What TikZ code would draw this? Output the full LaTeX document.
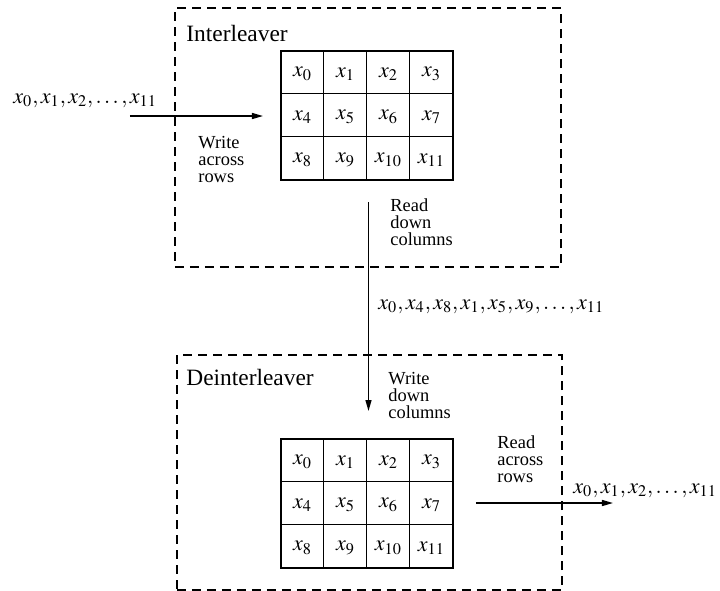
\documentclass[tikz,border=0pt]{standalone}
\usepackage{mathptmx}
\usepackage{fontspec}
\setmainfont{Liberation Serif}
\usetikzlibrary{arrows.meta,calc}

\tikzset{
  gridbox/.style={draw, line width=0.7pt, minimum width=86pt, minimum height=64.5pt,
    inner sep=0pt},
  gridline/.style={line width=0.7pt},
  cell/.style={inner sep=0pt, font=\fontsize{11}{12}\selectfont},
  stage/.style={draw, dashed, dash pattern=on 4.5pt off 3pt, line width=0.6pt,
    inner sep=0pt},
  flow/.style={line width=0.7pt, -{Triangle[length=5.5pt,width=3pt]}},
  title/.style={anchor=base west, inner sep=0pt, font=\fontsize{11.7}{13}\selectfont},
  % placed by the baseline of the last line
  note/.style={anchor=base west, inner sep=0pt, align=left,
    font=\fontsize{9.2}{8.5}\selectfont},
  seq/.style={anchor=base west, inner sep=0pt, font=\fontsize{11}{12}\selectfont},
}

% 3x4 array of x_0 ... x_11 with its top left corner at (#2,#3), named #1
\newcommand{\symarray}[3]{%
  \node[gridbox] (#1) at (#2+86,#3+64.5) {};
  \foreach \c in {1,2,3}
    \draw[gridline] ($(#1.north west)+(43*\c,0)$) -- ($(#1.south west)+(43*\c,0)$);
  \foreach \r in {1,2}
    \draw[gridline] ($(#1.north west)+(0,43*\r)$) -- ($(#1.north east)+(0,43*\r)$);
  \foreach \i in {0,...,11} {
    \pgfmathtruncatemacro{\cc}{mod(\i,4)}
    \pgfmathtruncatemacro{\rr}{int(\i/4)}
    \node[cell] (#1-\i) at (#2+21.5+43*\cc,#3+23+43*\rr) {$x_{\i}$};
  }%
}

\begin{document}
\begin{tikzpicture}[x=0.5pt, y=-0.5pt]
\useasboundingbox (0,0) rectangle (720,591);

% interleaver block
\node[stage, minimum width=193pt, minimum height=129.5pt] (ilv) at (368,137.5) {};
\node[title] (ilvT) at (186,41) {Interleaver};
\symarray{G1}{281}{51}
\node[seq] (inSeq) at (13,103) {$x_0, x_1, x_2, \ldots, x_{11}$};
\coordinate (inS) at (130,116);
\coordinate (inE) at (263,116);
\draw[flow] (inS) -- (inE);
\node[note] (wRows) at (198,182) {Write\\across\\rows};
\node[note] (rCols) at (390,245) {Read\\down\\columns};

% deinterleaver block
\node[stage, minimum width=192.5pt, minimum height=117.5pt] (dlv) at (369.5,472.5) {};
\node[title] (dlvT) at (186,385) {Deinterleaver};
\symarray{G2}{281}{439}
\node[note] (wCols) at (388,418) {Write\\down\\columns};
\node[note] (rRows) at (497,482) {Read\\across\\rows};

% channel between the two blocks
\coordinate (midS) at (368.5,202);
\coordinate (midE) at (368.5,411);
\draw[flow] (midS) -- (midE);
\node[seq] (midSeq) at (378,309) {$x_0, x_4, x_8, x_1, x_5, x_9, \ldots, x_{11}$};

% output
\coordinate (outS) at (476,503);
\coordinate (outE) at (613,503);
\draw[flow] (outS) -- (outE);
\node[seq] (outSeq) at (573,493) {$x_0, x_1, x_2, \ldots, x_{11}$};
\end{tikzpicture}
\end{document}
